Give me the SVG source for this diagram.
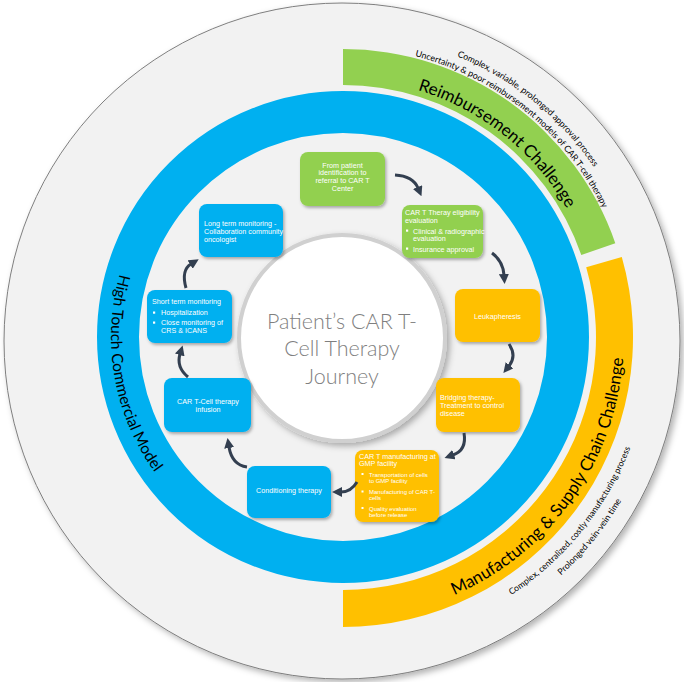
<svg xmlns="http://www.w3.org/2000/svg" width="684" height="682" viewBox="0 0 684 682">
<defs>
<filter id="sh" x="-20%" y="-20%" width="150%" height="150%"><feDropShadow dx="1.5" dy="2" stdDeviation="1.5" flood-color="#000" flood-opacity="0.3"/></filter>
<filter id="shBig" x="-10%" y="-10%" width="125%" height="125%"><feDropShadow dx="3" dy="3" stdDeviation="3" flood-color="#000" flood-opacity="0.3"/></filter>
<marker id="ah" viewBox="0 0 10 10" refX="1" refY="5" markerWidth="10" markerHeight="10" markerUnits="userSpaceOnUse" orient="auto"><path d="M0,0 L10,5 L0,10 z" fill="#333f50"/></marker>
<path id="pR" d="M381.1,81.8 A258,258 0 0 1 583.0,242.4"/>
<path id="pT1" d="M364.1,34.7 A303,303 0 0 1 634.3,253.5"/>
<path id="pT2" d="M363.2,47.7 A290,290 0 0 1 621.8,257.1"/>
<path id="pM" d="M434.5,602.7 A281,281 0 0 0 624,337"/>
<path id="pB1" d="M427.9,633.1 A308,308 0 0 0 650.2,358.5"/>
<path id="pB2" d="M432.0,647.5 A323,323 0 0 0 665.2,359.5"/>
<path id="pH" d="M132.7,239.0 A232,232 0 0 0 179.0,501.0"/>
</defs>
<style>
.bx text{font-family:"Liberation Sans",Arial,sans-serif;font-size:7.2px;fill:#fff}
.bx .sm{font-size:6px}
.bx rect.b{filter:url(#sh)}
.g{fill:#92d050}.o{fill:#ffc000}.bl{fill:#00b0f0}
.arc{font-family:Lato,"Open Sans",sans-serif;fill:#000}
.con path{fill:none;stroke:#333f50;stroke-width:3;marker-end:url(#ah)}
.dot{fill:#fff}
</style>
<circle cx="342" cy="341" r="338" fill="#f2f2f2" stroke="#7f7f7f" stroke-width="1" filter="url(#shBig)"/>
<g id="ring-blue"><circle cx="343" cy="337" r="225" fill="none" stroke="#00b0f0" stroke-width="42"/>
<text class="arc" font-size="15.5"><textPath href="#pH" startOffset="50%" text-anchor="middle">High Touch Commercial Model</textPath></text></g>
<g id="band-green"><path class="g" d="M343,49 A288,288 0 0 1 615.3,243.2 L581.3,255.0 A252,252 0 0 0 343,85 Z"/>
<text class="arc" font-size="17"><textPath href="#pR" startOffset="50%" text-anchor="middle">Reimbursement Challenge</textPath></text>
<text class="arc" font-size="8.8"><textPath href="#pT1" startOffset="50%" text-anchor="middle">Complex, variable, prolonged approval process</textPath></text>
<text class="arc" font-size="8.8"><textPath href="#pT2" startOffset="50%" text-anchor="middle">Uncertainty &amp; poor reimbursement models of CAR T-cell therapy</textPath></text></g>
<g id="band-orange"><path class="o" d="M621.8,257.1 A290,290 0 0 1 343,627 L343,590 A253,253 0 0 0 586.2,267.3 Z"/>
<text class="arc" font-size="17"><textPath href="#pM" startOffset="50%" text-anchor="middle">Manufacturing &amp; Supply Chain Challenge</textPath></text>
<text class="arc" font-size="8.6"><textPath href="#pB1" startOffset="50%" text-anchor="middle">Complex, centralized, costly manufacturing process</textPath></text>
<text class="arc" font-size="8.8"><textPath href="#pB2" startOffset="50%" text-anchor="middle">Prolonged vein-vein time</textPath></text></g>
<g id="center"><circle cx="342" cy="338" r="103" fill="#fff" stroke="#d0d0d0" stroke-width="4" filter="url(#shBig)"/>
<text font-family="Lato,'Open Sans',sans-serif" font-weight="300" font-size="21.5" fill="#7f7f7f" text-anchor="middle"><tspan x="342" y="329">Patient’s CAR T-</tspan><tspan x="342" y="356">Cell Therapy</tspan><tspan x="342" y="384">Journey</tspan></text></g>
<g id="n1" class="bx"><rect class="b g" x="300" y="152" width="85" height="54" rx="8"/>
<text text-anchor="middle"><tspan x="342.5" y="167.7">From patient</tspan><tspan x="342.5" y="175.4">identification to</tspan><tspan x="342.5" y="183.1">referral to CAR T</tspan><tspan x="342.5" y="190.8">Center</tspan></text></g>
<g id="n2" class="bx"><rect class="b g" x="402" y="205" width="81" height="53" rx="8"/>
<text><tspan x="405" y="214.5">CAR T Theray eligibility</tspan><tspan x="405" y="222.5">evaluation</tspan><tspan x="413" y="233.5">Clinical &amp; radiographic</tspan><tspan x="413" y="240.8">evaluation</tspan><tspan x="413" y="251.5">Insurance approval</tspan></text>
<rect class="dot" x="406" y="229.5" width="2.2" height="2.2"/><rect class="dot" x="406" y="247.5" width="2.2" height="2.2"/></g>
<g id="n3" class="bx"><rect class="b o" x="455" y="289" width="85" height="53" rx="8"/>
<text x="497.5" y="318.5" text-anchor="middle">Leukapheresis</text></g>
<g id="n4" class="bx"><rect class="b o" x="436" y="378" width="84" height="54" rx="8"/>
<text><tspan x="440" y="400.3">Bridging therapy-</tspan><tspan x="440" y="408.3">Treatment to control</tspan><tspan x="440" y="416">disease</tspan></text></g>
<g id="n5" class="bx"><rect class="b o" x="355" y="450" width="84" height="72" rx="8"/>
<text font-size="6.8"><tspan x="359" y="458.5">CAR T manufacturing at</tspan><tspan x="359" y="465.8">GMP facility</tspan></text>
<text class="sm"><tspan x="369" y="476.5">Transportation of cells</tspan><tspan x="369" y="482.9">to GMP facility</tspan><tspan x="369" y="493.9">Manufacturing of CAR T-</tspan><tspan x="369" y="499.5">cells</tspan><tspan x="369" y="510.5">Quality evaluation</tspan><tspan x="369" y="517.2">before release</tspan></text>
<rect class="dot" x="361.5" y="473" width="2" height="2"/><rect class="dot" x="361.5" y="490.5" width="2" height="2"/><rect class="dot" x="361.5" y="507" width="2" height="2"/></g>
<g id="n6" class="bx"><rect class="b bl" x="247" y="466" width="84" height="52" rx="8"/>
<text x="289" y="492.5" text-anchor="middle">Conditioning therapy</text></g>
<g id="n7" class="bx"><rect class="b bl" x="164" y="378" width="87" height="54" rx="8"/>
<text text-anchor="middle"><tspan x="208" y="403.5">CAR T-Cell therapy</tspan><tspan x="208" y="411.5">infusion</tspan></text></g>
<g id="n8" class="bx"><rect class="b bl" x="147" y="290" width="85" height="53" rx="8"/>
<text><tspan x="152" y="303.5">Short term monitoring</tspan><tspan x="161" y="315.2">Hospitalization</tspan><tspan x="161" y="325.2">Close monitoring of</tspan><tspan x="161" y="332.5">CRS &amp; ICANS</tspan></text>
<rect class="dot" x="153" y="311.5" width="2.2" height="2.2"/><rect class="dot" x="153" y="321.5" width="2.2" height="2.2"/></g>
<g id="n9" class="bx"><rect class="b bl" x="199" y="204" width="84" height="53" rx="8"/>
<text><tspan x="204" y="225.5">Long term monitoring -</tspan><tspan x="204" y="233.5">Collaboration community</tspan><tspan x="204" y="241.5">oncologist</tspan></text></g>
<g id="connectors" class="con">
<path d="M395,175 Q413,176 418,188"/>
<path d="M492,253 Q503,261 504,275"/>
<path d="M509,344 Q517,356 509,366"/>
<path d="M464,433 Q467,450 453,455"/>
<path d="M357,482 Q351,492 341,492"/>
<path d="M247,467 Q232,465 229,447"/>
<path d="M188,377 Q176,367 180,354"/>
<path d="M186,288 Q181,270 191,264"/>
</g>
</svg>
